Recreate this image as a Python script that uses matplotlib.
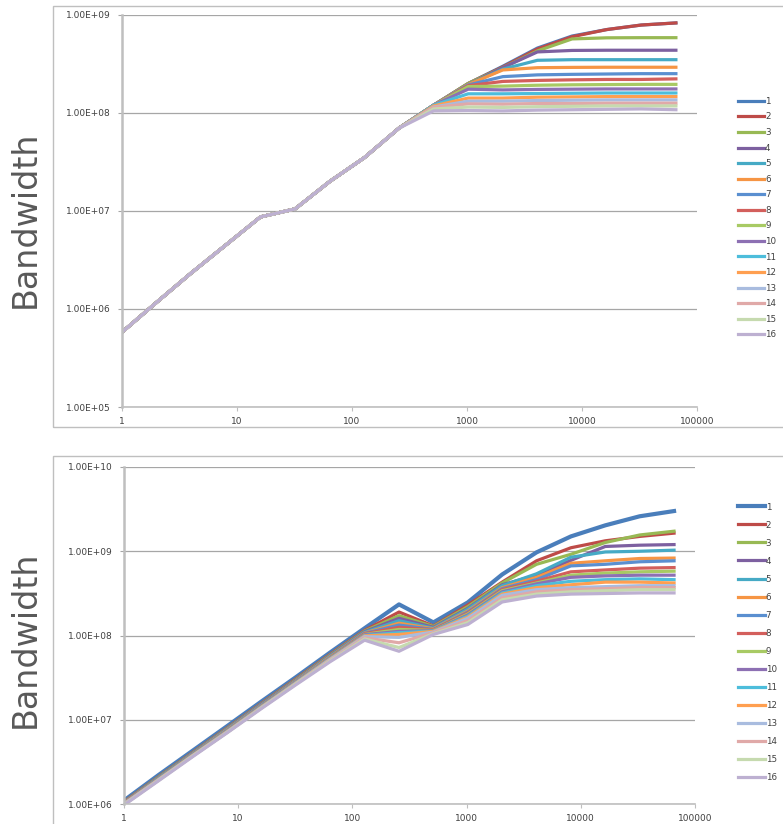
import matplotlib
matplotlib.use("Agg")
import matplotlib.pyplot as plt
from matplotlib.patches import Rectangle
from matplotlib.ticker import FixedLocator, NullLocator

x_vals = [1, 2, 4, 8, 16, 32, 64, 128, 256, 512, 1024, 2048, 4096, 8192, 16384, 32768, 65536]
series_names = [str(i) for i in range(1, 17)]
colors = ['#4A7EBB', '#BE4B48', '#98B954', '#7D60A0', '#46AAC5', '#F69544',
          '#5A8FD0', '#D35F5C', '#A8CA64', '#8D70B3', '#4DBDDB', '#FF9F50',
          '#A9BCDF', '#E0A9A8', '#C6DAAF', '#BDB0D1']

# ---- top panel values ----
top1 = [5.8e5, 1.17e6, 2.33e6, 4.5e6, 8.7e6, 1.05e7, 2.0e7, 3.5e7, 7.0e7, 1.2e8, 2.0e8, 3.0e8, 4.6e8, 6.1e8, 7.1e8, 7.9e8, 8.3e8]
top2 = [5.8e5, 1.17e6, 2.33e6, 4.5e6, 8.7e6, 1.05e7, 2.0e7, 3.5e7, 7.0e7, 1.2e8, 2.0e8, 2.95e8, 4.5e8, 6.0e8, 7.1e8, 7.9e8, 8.3e8]
top3 = [5.8e5, 1.17e6, 2.33e6, 4.5e6, 8.7e6, 1.05e7, 2.0e7, 3.5e7, 7.0e7, 1.2e8, 2.0e8, 2.9e8, 4.3e8, 5.7e8, 5.85e8, 5.87e8, 5.87e8]
top4 = [5.8e5, 1.17e6, 2.33e6, 4.5e6, 8.7e6, 1.05e7, 2.0e7, 3.5e7, 7.0e7, 1.2e8, 1.95e8, 2.9e8, 4.2e8, 4.35e8, 4.37e8, 4.37e8, 4.37e8]
top5 = [5.8e5, 1.17e6, 2.33e6, 4.5e6, 8.7e6, 1.05e7, 2.0e7, 3.5e7, 7.0e7, 1.2e8, 1.95e8, 2.8e8, 3.45e8, 3.5e8, 3.5e8, 3.5e8, 3.5e8]
top6 = [5.8e5, 1.17e6, 2.33e6, 4.5e6, 8.7e6, 1.05e7, 2.0e7, 3.5e7, 7.0e7, 1.2e8, 1.95e8, 2.75e8, 2.9e8, 2.92e8, 2.93e8, 2.93e8, 2.93e8]
top7 = [5.8e5, 1.17e6, 2.33e6, 4.5e6, 8.7e6, 1.05e7, 2.0e7, 3.5e7, 7.0e7, 1.2e8, 1.93e8, 2.35e8, 2.45e8, 2.48e8, 2.5e8, 2.52e8, 2.52e8]
top8 = [5.8e5, 1.17e6, 2.33e6, 4.5e6, 8.7e6, 1.05e7, 2.0e7, 3.5e7, 7.0e7, 1.2e8, 1.9e8, 2.1e8, 2.15e8, 2.18e8, 2.2e8, 2.2e8, 2.23e8]
top9 = [5.8e5, 1.17e6, 2.33e6, 4.5e6, 8.7e6, 1.05e7, 2.0e7, 3.5e7, 7.0e7, 1.2e8, 1.86e8, 1.88e8, 1.92e8, 1.94e8, 1.95e8, 1.96e8, 1.96e8]
top10 = [5.8e5, 1.17e6, 2.33e6, 4.5e6, 8.7e6, 1.05e7, 2.0e7, 3.5e7, 7.0e7, 1.2e8, 1.75e8, 1.72e8, 1.74e8, 1.75e8, 1.76e8, 1.76e8, 1.76e8]
top11 = [5.8e5, 1.17e6, 2.33e6, 4.5e6, 8.7e6, 1.05e7, 2.0e7, 3.5e7, 7.0e7, 1.2e8, 1.57e8, 1.57e8, 1.58e8, 1.59e8, 1.6e8, 1.6e8, 1.6e8]
top12 = [5.8e5, 1.17e6, 2.33e6, 4.5e6, 8.7e6, 1.05e7, 2.0e7, 3.5e7, 7.0e7, 1.18e8, 1.42e8, 1.42e8, 1.45e8, 1.46e8, 1.47e8, 1.47e8, 1.47e8]
top13 = [5.8e5, 1.17e6, 2.33e6, 4.5e6, 8.7e6, 1.05e7, 2.0e7, 3.5e7, 7.0e7, 1.15e8, 1.32e8, 1.32e8, 1.34e8, 1.35e8, 1.36e8, 1.36e8, 1.36e8]
top14 = [5.8e5, 1.17e6, 2.33e6, 4.5e6, 8.7e6, 1.05e7, 2.0e7, 3.5e7, 7.0e7, 1.14e8, 1.24e8, 1.23e8, 1.25e8, 1.25e8, 1.26e8, 1.26e8, 1.26e8]
top15 = [5.8e5, 1.17e6, 2.33e6, 4.5e6, 8.7e6, 1.05e7, 2.0e7, 3.5e7, 7.0e7, 1.1e8, 1.15e8, 1.14e8, 1.16e8, 1.17e8, 1.18e8, 1.18e8, 1.18e8]
top16 = [5.8e5, 1.17e6, 2.33e6, 4.5e6, 8.7e6, 1.05e7, 2.0e7, 3.5e7, 7.0e7, 1.05e8, 1.06e8, 1.05e8, 1.07e8, 1.08e8, 1.09e8, 1.1e8, 1.08e8]

# ---- bottom panel values ----
bot1 = [1.1e6, 2.2e6, 4.3e6, 8.4e6, 1.65e7, 3.2e7, 6.3e7, 1.22e8, 2.34e8, 1.43e8, 2.47e8, 5.3e8, 9.7e8, 1.5e9, 2.03e9, 2.6e9, 3.0e9]
bot2 = [1.06e6, 2.1e6, 4.1e6, 8.0e6, 1.57e7, 3.05e7, 6.0e7, 1.15e8, 1.9e8, 1.3e8, 2.3e8, 4.3e8, 7.7e8, 1.1e9, 1.33e9, 1.5e9, 1.64e9]
bot3 = [1.05e6, 2.08e6, 4.05e6, 7.9e6, 1.55e7, 3.0e7, 5.9e7, 1.13e8, 1.72e8, 1.28e8, 2.2e8, 4.2e8, 7.0e8, 9.2e8, 1.27e9, 1.56e9, 1.73e9]
bot4 = [1.04e6, 2.05e6, 4.0e6, 7.8e6, 1.53e7, 2.95e7, 5.8e7, 1.11e8, 1.6e8, 1.25e8, 2.1e8, 4.0e8, 5.2e8, 7.8e8, 1.14e9, 1.18e9, 1.2e9]
bot5 = [1.03e6, 2.03e6, 3.95e6, 7.7e6, 1.5e7, 2.9e7, 5.7e7, 1.09e8, 1.5e8, 1.22e8, 2.05e8, 3.9e8, 5.4e8, 8.5e8, 9.8e8, 1.0e9, 1.03e9]
bot6 = [1.03e6, 2.0e6, 3.9e6, 7.6e6, 1.48e7, 2.88e7, 5.6e7, 1.07e8, 1.4e8, 1.2e8, 1.95e8, 3.7e8, 4.9e8, 7.2e8, 7.7e8, 8.2e8, 8.3e8]
bot7 = [1.02e6, 2.0e6, 3.88e6, 7.5e6, 1.47e7, 2.85e7, 5.5e7, 1.06e8, 1.33e8, 1.18e8, 1.9e8, 3.6e8, 4.6e8, 6.7e8, 7.0e8, 7.5e8, 7.7e8]
bot8 = [1.02e6, 1.98e6, 3.85e6, 7.4e6, 1.45e7, 2.82e7, 5.45e7, 1.05e8, 1.25e8, 1.17e8, 1.85e8, 3.5e8, 4.4e8, 5.7e8, 6.0e8, 6.3e8, 6.4e8]
bot9 = [1.01e6, 1.97e6, 3.82e6, 7.35e6, 1.44e7, 2.8e7, 5.4e7, 1.03e8, 1.18e8, 1.15e8, 1.8e8, 3.4e8, 4.2e8, 5.2e8, 5.5e8, 5.7e8, 5.8e8]
bot10 = [1.01e6, 1.96e6, 3.8e6, 7.3e6, 1.43e7, 2.78e7, 5.35e7, 1.02e8, 1.12e8, 1.14e8, 1.75e8, 3.3e8, 4.1e8, 4.9e8, 5.1e8, 5.2e8, 5.2e8]
bot11 = [1.0e6, 1.95e6, 3.78e6, 7.25e6, 1.42e7, 2.75e7, 5.3e7, 1.0e8, 1.08e8, 1.13e8, 1.7e8, 3.2e8, 3.9e8, 4.4e8, 4.6e8, 4.7e8, 4.6e8]
bot12 = [1.0e6, 1.94e6, 3.76e6, 7.2e6, 1.41e7, 2.72e7, 5.25e7, 9.9e7, 1.03e8, 1.12e8, 1.65e8, 3.1e8, 3.7e8, 4.0e8, 4.3e8, 4.3e8, 4.2e8]
bot13 = [1.0e6, 1.93e6, 3.74e6, 7.15e6, 1.4e7, 2.7e7, 5.2e7, 9.7e7, 9.5e7, 1.1e8, 1.6e8, 3.0e8, 3.5e8, 3.7e8, 3.8e8, 3.9e8, 3.9e8]
bot14 = [9.9e5, 1.92e6, 3.72e6, 7.1e6, 1.39e7, 2.68e7, 5.1e7, 9.4e7, 8.2e7, 1.08e8, 1.5e8, 2.8e8, 3.3e8, 3.5e8, 3.6e8, 3.7e8, 3.7e8]
bot15 = [9.8e5, 1.9e6, 3.7e6, 7.05e6, 1.38e7, 2.65e7, 5.0e7, 9.1e7, 7.2e7, 1.05e8, 1.42e8, 2.65e8, 3.1e8, 3.3e8, 3.4e8, 3.5e8, 3.5e8]
bot16 = [9.7e5, 1.88e6, 3.65e6, 7.0e6, 1.36e7, 2.6e7, 4.9e7, 8.8e7, 6.5e7, 1.03e8, 1.35e8, 2.5e8, 2.94e8, 3.1e8, 3.15e8, 3.2e8, 3.2e8]

top_series = [top1, top2, top3, top4, top5, top6, top7, top8, top9, top10, top11, top12, top13, top14, top15, top16]
bot_series = [bot1, bot2, bot3, bot4, bot5, bot6, bot7, bot8, bot9, bot10, bot11, bot12, bot13, bot14, bot15, bot16]

x_ticks = [1, 10, 100, 1000, 10000, 100000]
x_tick_labels = ['1', '10', '100', '1000', '10000', '100000']
top_y_ticks = [1e5, 1e6, 1e7, 1e8, 1e9]
top_y_labels = ['1.00E+05', '1.00E+06', '1.00E+07', '1.00E+08', '1.00E+09']
bot_y_ticks = [1e6, 1e7, 1e8, 1e9, 1e10]
bot_y_labels = ['1.00E+06', '1.00E+07', '1.00E+08', '1.00E+09', '1.00E+10']
y_title = 'Bandwidth'

W, H = 783, 824
fig = plt.figure(figsize=(W / 100, H / 100), dpi=100)
fig.patch.set_facecolor('white')

# outer chart borders
fig.patches.append(Rectangle((53 / W, 1 - 427 / H), (W + 10 - 53) / W, (427 - 5.5) / H,
                             transform=fig.transFigure, fill=False, edgecolor='#BFBFBF', lw=1.0))
fig.patches.append(Rectangle((53 / W, -0.05), (W + 10 - 53) / W, 1 - 455.5 / H + 0.05,
                             transform=fig.transFigure, fill=False, edgecolor='#BFBFBF', lw=1.0))

tick_color = '#404040'


def style_axes(ax, yt, yl, ylim, legend_y, legend_spacing):
    ax.set_xscale('log')
    ax.set_yscale('log')
    ax.set_xlim(1, 100000)
    ax.set_ylim(*ylim)
    ax.xaxis.set_major_locator(FixedLocator(x_ticks))
    ax.xaxis.set_minor_locator(NullLocator())
    ax.set_xticklabels(x_tick_labels)
    ax.yaxis.set_major_locator(FixedLocator(yt))
    ax.yaxis.set_minor_locator(NullLocator())
    ax.set_yticklabels(yl)
    for s in ['top', 'right']:
        ax.spines[s].set_visible(False)
    ax.spines['left'].set_color('#BFBFBF')
    ax.spines['left'].set_linewidth(1.8)
    ax.spines['bottom'].set_color('#BFBFBF')
    ax.spines['bottom'].set_linewidth(1.2)
    ax.grid(axis='y', color='#A6A6A6', lw=0.9)
    ax.set_axisbelow(True)
    ax.tick_params(axis='y', length=3, color='#A6A6A6', labelsize=6.5, labelcolor=tick_color, pad=5)
    ax.tick_params(axis='x', length=3, color='#BFBFBF', labelsize=6.5, labelcolor=tick_color, pad=4)
    ax.set_ylabel(y_title, fontsize=24, color='#595959')
    leg = ax.legend(loc='upper left', bbox_to_anchor=legend_y, frameon=False, fontsize=6.3,
                    labelspacing=legend_spacing, handlelength=3.0, handletextpad=0.1,
                    borderaxespad=0)
    for t in leg.get_texts():
        t.set_color(tick_color)


ax1 = fig.add_axes([122 / W, 1 - 407 / H, (697 - 122) / W, (407 - 15) / H])
for name, vals, c in zip(series_names, top_series, colors):
    ax1.plot(x_vals, vals, color=c, lw=2.3, label=name, solid_joinstyle='round')
style_axes(ax1, top_y_ticks, top_y_labels, (1e5, 1e9), (1.065, 0.80), 0.75)
ax1.yaxis.set_label_coords(-0.139, 0.48)

ax2 = fig.add_axes([124 / W, 1 - 804 / H, (695 - 124) / W, (804 - 467) / H])
for name, vals, c in zip(series_names, bot_series, colors):
    ax2.plot(x_vals, vals, color=c, lw=2.3 if name != '1' else 3.0, label=name, solid_joinstyle='round')
style_axes(ax2, bot_y_ticks, bot_y_labels, (1e6, 1e10), (1.07, 0.905), 1.03)
ax2.yaxis.set_label_coords(-0.1436, 0.49)

fig.savefig('out.png', dpi=100, facecolor='white')
